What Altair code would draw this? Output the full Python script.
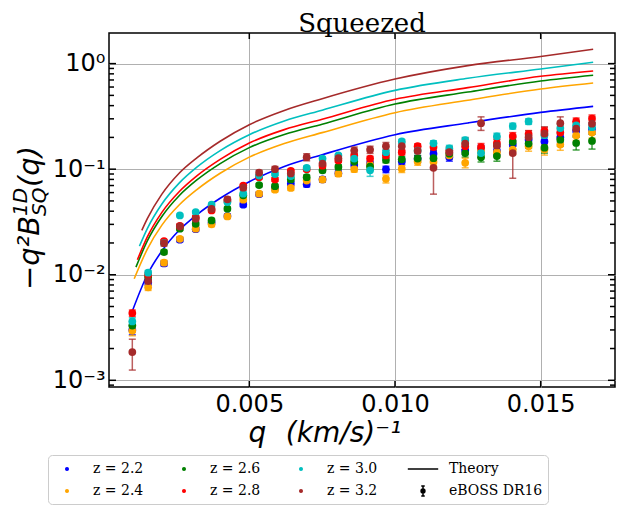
import altair as alt
import pandas as pd

# ---------------- data ----------------
z_labels = ["z = 2.2", "z = 2.4", "z = 2.6", "z = 2.8", "z = 3.0", "z = 3.2"]
z_colors = ["#0000ff", "#ffa500", "#008000", "#ff0000", "#00bfbf", "#a52a2a"]

q_data = [0.000985, 0.001529, 0.002073, 0.002617, 0.003161, 0.003705, 0.004249, 0.004793,
          0.005337, 0.005881, 0.006425, 0.006969, 0.007513, 0.008057, 0.008601, 0.009145,
          0.009689, 0.010233, 0.010777, 0.011321, 0.011865, 0.012409, 0.012953, 0.013497,
          0.014041, 0.014585, 0.015129, 0.015673, 0.016217, 0.016761]

val_22 = [0.0030, 0.0085, 0.0128, 0.0215, 0.0270, 0.0310, 0.0360, 0.0461, 0.0580, 0.0662,
          0.0730, 0.0720, 0.0800, 0.0916, 0.1100, 0.1120, 0.0996, 0.1180, 0.1250, 0.1400,
          0.1300, 0.1500, 0.1550, 0.1500, 0.1700, 0.1900, 0.1830, 0.2000, 0.2300, 0.2400]
val_24 = [0.00294, 0.0076, 0.0130, 0.0219, 0.0273, 0.0300, 0.0357, 0.0514, 0.0586, 0.0640,
          0.0665, 0.0780, 0.0797, 0.0906, 0.1000, 0.1100, 0.0810, 0.1010, 0.1180, 0.1170,
          0.1350, 0.1150, 0.1500, 0.1450, 0.1530, 0.1650, 0.1540, 0.1710, 0.2090, 0.2220]
val_26 = [0.0033, 0.0095, 0.0164, 0.0273, 0.0304, 0.0327, 0.0422, 0.0565, 0.0707, 0.0690,
          0.0800, 0.0840, 0.0975, 0.1050, 0.1180, 0.1060, 0.1220, 0.1240, 0.1260, 0.1270,
          0.1400, 0.1420, 0.1300, 0.1330, 0.1810, 0.1750, 0.1600, 0.1900, 0.1770, 0.1850]
val_28 = [0.00433, 0.0100, 0.0208, 0.0290, 0.0350, 0.0407, 0.0500, 0.0700, 0.0840, 0.0800,
          0.0965, 0.1000, 0.1080, 0.1210, 0.1350, 0.1260, 0.1350, 0.1450, 0.1650, 0.1620,
          0.1500, 0.1650, 0.1620, 0.1770, 0.2060, 0.2150, 0.2300, 0.2220, 0.2830, 0.3010]
val_30 = [0.00361, 0.01045, 0.0200, 0.0365, 0.0392, 0.0461, 0.0488, 0.0586, 0.0870, 0.0900,
          0.0860, 0.1030, 0.1260, 0.1350, 0.1260, 0.0975, 0.1450, 0.1830, 0.1500, 0.1760,
          0.1570, 0.1880, 0.1420, 0.2050, 0.2560, 0.2830, 0.2100, 0.2450, 0.2600, 0.2500]
val_32 = [0.00185, 0.0087, 0.0199, 0.0287, 0.0340, 0.0420, 0.0518, 0.0668, 0.0927, 0.1000,
          0.0910, 0.1300, 0.1130, 0.1270, 0.1500, 0.1530, 0.1650, 0.1650, 0.1490, 0.1030,
          0.1450, 0.1750, 0.2730, 0.1680, 0.1420, 0.2010, 0.2170, 0.2730, 0.2420, 0.2700]

err_22 = [0.0003, 0.0005, 0.0007, 0.0010, 0.0012, 0.0014, 0.0016, 0.0020, 0.0025, 0.0030,
          0.0035, 0.0040, 0.0045, 0.0050, 0.0060, 0.0065, 0.0070, 0.0080, 0.0090, 0.0100,
          0.0110, 0.0120, 0.0130, 0.0140, 0.0160, 0.0170, 0.0180, 0.0200, 0.0220, 0.0250]
err_24 = [0.0003, 0.0005, 0.0007, 0.0010, 0.0012, 0.0014, 0.0016, 0.0020, 0.0025, 0.0030,
          0.0035, 0.0040, 0.0045, 0.0050, 0.0060, 0.0065, 0.0070, 0.0080, 0.0090, 0.0100,
          0.0110, 0.0120, 0.0130, 0.0140, 0.0160, 0.0170, 0.0180, 0.0200, 0.0220, 0.0250]
err_26 = [0.0003, 0.0005, 0.0007, 0.0010, 0.0012, 0.0014, 0.0016, 0.0020, 0.0025, 0.0030,
          0.0035, 0.0040, 0.0045, 0.0050, 0.0060, 0.0065, 0.0070, 0.0080, 0.0090, 0.0100,
          0.0110, 0.0120, 0.0130, 0.0140, 0.0160, 0.0170, 0.0180, 0.0250, 0.0250, 0.0300]
err_28 = [0.0003, 0.0005, 0.0007, 0.0010, 0.0012, 0.0014, 0.0016, 0.0020, 0.0025, 0.0030,
          0.0035, 0.0040, 0.0045, 0.0050, 0.0060, 0.0065, 0.0070, 0.0080, 0.0090, 0.0100,
          0.0110, 0.0120, 0.0130, 0.0140, 0.0160, 0.0170, 0.0180, 0.0200, 0.0220, 0.0250]
err_30 = [0.0003, 0.0005, 0.0007, 0.0010, 0.0012, 0.0014, 0.0016, 0.0020, 0.0025, 0.0030,
          0.0035, 0.0040, 0.0045, 0.0050, 0.0060, 0.0120, 0.0070, 0.0080, 0.0090, 0.0100,
          0.0110, 0.0120, 0.0130, 0.0140, 0.0160, 0.0170, 0.0180, 0.0200, 0.0220, 0.0250]
err_32 = [0.0006, 0.0008, 0.0012, 0.0015, 0.0018, 0.0022, 0.0026, 0.0035, 0.0045, 0.0060,
          0.0060, 0.0100, 0.0080, 0.0100, 0.0120, 0.0120, 0.0140, 0.0150, 0.0150, 0.0450,
          0.0180, 0.0220, 0.0400, 0.0300, 0.0600, 0.0300, 0.0350, 0.0400, 0.0400, 0.0450]

th_q_22 = [0.00098, 0.0015, 0.0020, 0.0026, 0.0032, 0.0040, 0.0050, 0.0062, 0.0075, 0.0100, 0.0125, 0.0150, 0.0168]
th_v_22 = [0.00449, 0.0100, 0.0168, 0.0265, 0.0370, 0.0530, 0.0760, 0.1060, 0.1370, 0.2120, 0.2740, 0.3450, 0.3940]
th_q_24 = [0.00105, 0.0015, 0.0020, 0.0026, 0.0032, 0.0040, 0.0050, 0.0062, 0.0075, 0.0100, 0.0125, 0.0150, 0.0168]
th_v_24 = [0.00916, 0.0175, 0.0295, 0.0460, 0.0640, 0.0915, 0.1300, 0.1750, 0.2220, 0.3430, 0.4500, 0.5750, 0.6550]
th_q_26 = [0.00111, 0.0015, 0.0020, 0.0026, 0.0032, 0.0040, 0.0050, 0.0062, 0.0075, 0.0100, 0.0125, 0.0150, 0.0168]
th_v_26 = [0.0118, 0.0209, 0.0356, 0.0563, 0.0790, 0.1130, 0.1600, 0.2130, 0.2670, 0.4140, 0.5380, 0.6840, 0.7750]
th_q_28 = [0.00116, 0.0015, 0.0020, 0.0026, 0.0032, 0.0040, 0.0050, 0.0062, 0.0075, 0.0100, 0.0125, 0.0150, 0.0168]
th_v_28 = [0.01387, 0.0228, 0.0390, 0.0615, 0.0865, 0.1240, 0.1770, 0.2370, 0.2970, 0.4590, 0.5920, 0.7580, 0.8510]
th_q_30 = [0.00123, 0.0015, 0.0020, 0.0026, 0.0032, 0.0040, 0.0050, 0.0062, 0.0075, 0.0100, 0.0125, 0.0150, 0.0168]
th_v_30 = [0.01867, 0.0274, 0.0468, 0.0742, 0.1045, 0.1500, 0.2120, 0.2860, 0.3620, 0.5580, 0.7260, 0.8890, 1.0300]
th_q_32 = [0.00131, 0.0015, 0.0020, 0.0026, 0.0032, 0.0040, 0.0050, 0.0062, 0.0075, 0.0100, 0.0125, 0.0150, 0.0168]
th_v_32 = [0.0263, 0.0340, 0.0580, 0.0920, 0.1280, 0.1840, 0.2640, 0.3600, 0.4650, 0.7140, 0.9570, 1.1700, 1.3700]

x_major = [0.005, 0.010, 0.015]
y_major = [0.001, 0.01, 0.1, 1.0]
y_minor = [0.0009,
           0.002, 0.003, 0.004, 0.005, 0.006, 0.007, 0.008, 0.009,
           0.02, 0.03, 0.04, 0.05, 0.06, 0.07, 0.08, 0.09,
           0.2, 0.3, 0.4, 0.5, 0.6, 0.7, 0.8, 0.9]

legend_entries = ["z = 2.2", "z = 2.4", "z = 2.6", "z = 2.8",
                  "z = 3.0", "z = 3.2", "Theory", "eBOSS DR16"]
legend_colors = ["#0000ff", "#ffa500", "#008000", "#ff0000",
                 "#00bfbf", "#a52a2a", "black", "black"]

# ---------------- tables ----------------
vals = [val_22, val_24, val_26, val_28, val_30, val_32]
errs = [err_22, err_24, err_26, err_28, err_30, err_32]
rows = []
for lab, vv, ee in zip(z_labels, vals, errs):
    for q, v, e in zip(q_data, vv, ee):
        rows.append({"z": lab, "q": q, "v": v, "lo": v - e, "hi": v + e})
df_pts = pd.DataFrame(rows)

th_qs = [th_q_22, th_q_24, th_q_26, th_q_28, th_q_30, th_q_32]
th_vs = [th_v_22, th_v_24, th_v_26, th_v_28, th_v_30, th_v_32]
trows = []
for lab, qq, vv in zip(z_labels, th_qs, th_vs):
    for q, v in zip(qq, vv):
        trows.append({"z": lab, "q": q, "v": v})
df_th = pd.DataFrame(trows)

W, H = 506, 354
XTITLE = "q\u2002\u2009(km/s)⁻¹"
xscale = alt.Scale(domain=[0.000185, 0.01755], nice=False, zero=False)
yscale = alt.Scale(type="log", domain=[0.000864, 1.95], nice=False)
cscale = alt.Scale(domain=z_labels, range=z_colors)

x_axis = alt.Axis(values=x_major, format=".3f", grid=True, gridColor="#b0b0b0", gridWidth=1,
                  ticks=False, tickSize=0, domain=False,
                  labelFont="DejaVu Sans", labelFontSize=24, labelColor="black", labelPadding=5,
                  title=XTITLE, titleFont="DejaVu Sans", titleFontSize=28,
                  titleFontStyle="italic", titleFontWeight="normal", titleColor="black",
                  titleX=139, titleY=54, titleBaseline="alphabetic", titleAlign="left")
y_axis = alt.Axis(values=y_major, grid=True, gridColor="#b0b0b0", gridWidth=1,
                  ticks=False, tickSize=0, domain=False,
                  labelExpr="datum.value >= 0.5 ? '10⁰' : datum.value >= 0.05 ? '10⁻¹' : datum.value >= 0.005 ? '10⁻²' : '10⁻³'",
                  labelFont="DejaVu Sans", labelFontSize=24, labelColor="black", labelPadding=4,
                  title=None)


def X(field):
    return alt.X(field, scale=xscale, axis=x_axis, title=XTITLE)


def Y(field):
    return alt.Y(field, scale=yscale, axis=y_axis, title=None)


color = alt.Color("z:N", scale=cscale, legend=None)

theory = alt.Chart(df_th).mark_line(strokeWidth=1.6, interpolate="monotone").encode(
    x=X("q:Q"), y=Y("v:Q"), color=color)

ebars = alt.Chart(df_pts).mark_rule(strokeWidth=1.5, opacity=0.75).encode(
    x=X("q:Q"), y=Y("lo:Q"), y2="hi:Q", color=color)
caps_lo = alt.Chart(df_pts).mark_tick(orient="horizontal", size=7, thickness=1.5, opacity=0.75).encode(
    x=X("q:Q"), y=Y("lo:Q"), color=color)
caps_hi = alt.Chart(df_pts).mark_tick(orient="horizontal", size=7, thickness=1.5, opacity=0.75).encode(
    x=X("q:Q"), y=Y("hi:Q"), color=color)
points = alt.Chart(df_pts).mark_circle(size=60, opacity=1).encode(
    x=X("q:Q"), y=Y("v:Q"), color=color)

# inward ticks on all four sides
df_ymaj = pd.DataFrame({"v": y_major})
df_ymin = pd.DataFrame({"v": y_minor})
df_xmaj = pd.DataFrame({"q": x_major})


def yticks(df, length, side):
    x0 = 0 if side == "left" else W
    x1 = length if side == "left" else W - length
    return alt.Chart(df).mark_rule(color="black", strokeWidth=1.5).encode(
        y=Y("v:Q"), x=alt.value(x0), x2=alt.value(x1))


def xticks(df, length, side):
    y0 = H if side == "bottom" else 0
    y1 = H - length if side == "bottom" else length
    return alt.Chart(df).mark_rule(color="black", strokeWidth=1.5).encode(
        x=X("q:Q"), y=alt.value(y0), y2=alt.value(y1))


tick_layers = [yticks(df_ymaj, 7, "left"), yticks(df_ymaj, 7, "right"),
               yticks(df_ymin, 5, "left"), yticks(df_ymin, 5, "right"),
               xticks(df_xmaj, 6, "bottom"), xticks(df_xmaj, 6, "top")]


# y axis title pieces (rotated)
def ytext(t, x, y, size):
    return alt.Chart(pd.DataFrame({"t": [t]})).mark_text(
        angle=270, align="left", baseline="alphabetic", font="DejaVu Sans",
        fontSize=size, fontStyle="italic", color="black").encode(
        text="t:N", x=alt.value(x), y=alt.value(y))


ytitle = [ytext("−q²B", -70, 257, 29), ytext("1D", -82, 183, 20),
          ytext("SQ", -63, 183, 20), ytext("(q)", -70, 154, 29)]

# legend
circ = "M-0.16,0A0.16,0.16 0 1,0 0.16,0A0.16,0.16 0 1,0 -0.16,0Z"
line = "M-1.9,0L1.9,0"
ebar = ("M0,-0.62L0,0.62M-0.22,-0.62L0.22,-0.62M-0.22,0.62L0.22,0.62"
        "M-0.24,0A0.24,0.24 0 1,0 0.24,0A0.24,0.24 0 1,0 -0.24,0Z")
legend_shapes = [circ, circ, circ, circ, circ, circ, line, ebar]

leg = alt.Legend(title=None, orient="none", legendX=-61, legendY=422, columns=4,
                 direction="vertical",
                 labelFont="DejaVu Serif", labelFontSize=14, labelColor="black",
                 symbolSize=256, symbolStrokeWidth=1.5, symbolOffset=5, padding=5,
                 strokeColor="#cccccc", fillColor="white", cornerRadius=4,
                 rowPadding=6, columnPadding=26, labelOffset=17)

legend_layer = alt.Chart(pd.DataFrame({"entry": legend_entries})).transform_filter(
    "false").mark_point(filled=True, size=256, strokeWidth=1.5, opacity=1).encode(
    fill=alt.Fill("entry:N", scale=alt.Scale(domain=legend_entries, range=legend_colors), legend=leg),
    stroke=alt.Stroke("entry:N", scale=alt.Scale(domain=legend_entries, range=legend_colors), legend=leg),
    shape=alt.Shape("entry:N", scale=alt.Scale(domain=legend_entries, range=legend_shapes), legend=leg),
)

chart = alt.layer(theory, ebars, caps_lo, caps_hi, points, *tick_layers, *ytitle, legend_layer).properties(
    width=W, height=H,
    title=alt.TitleParams("Squeezed", font="DejaVu Serif", fontSize=26, fontWeight="normal",
                          anchor="middle", offset=5, dy=10, color="black"),
    autosize=alt.AutoSizeParams(type="none"),
    padding={"left": 101, "top": 25, "right": 2, "bottom": 118},
).configure_view(stroke="black", strokeWidth=1.5)

chart.save("out.html", embed_options={"renderer": "svg", "actions": False})
